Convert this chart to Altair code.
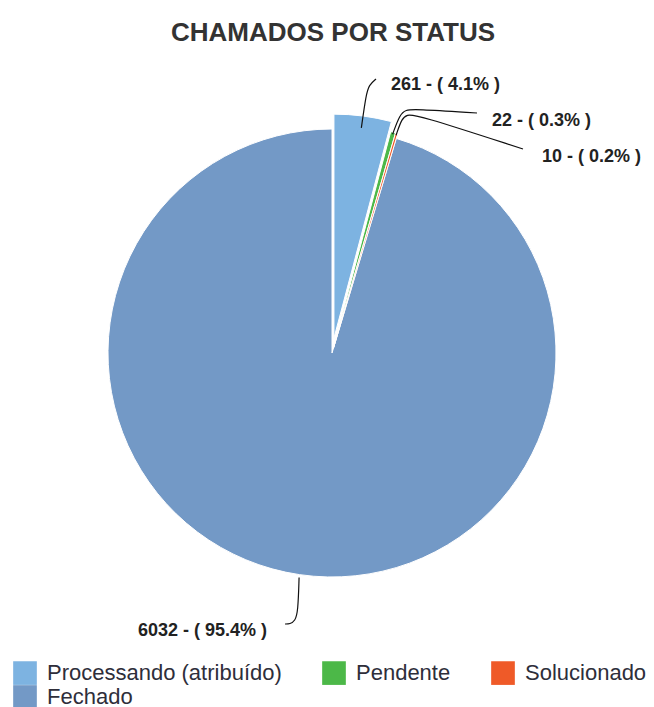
import altair as alt
import pandas as pd
import numpy as np

# ---- data ----
STATUS = ["Processando (atribuído)", "Pendente", "Solucionado", "Fechado"]
COUNTS = [261, 22, 10, 6032]
COLORS = ["#7db3e1", "#4cb848", "#ef5a28", "#7399c6"]
TITLE = "CHAMADOS POR STATUS"

# ---- layout ----
W, H = 654, 707
CX, CY, R = 332, 353, 224
EXPLODE = [15, 5, 5, 0]
LABEL_X = [391, 492, 542, 267]
LABEL_Y = [85, 121, 157, 631]
LABEL_ALIGN = ["left", "left", "left", "right"]
# leader line waypoints after the start point (which sits on the slice mid-angle)
LEADER_PTS = [
    [(366, 95), (369, 85), (376, 79)],
    [(400, 114), (406, 110), (414, 109), (477, 113)],
    [(402, 118), (407, 115), (415, 114), (523, 149)],
    [(298, 612), (295, 621), (290, 624), (285, 624)],
]

df = pd.DataFrame({"status": STATUS, "count": COUNTS, "idx": range(len(STATUS))})

counts = np.array(COUNTS, dtype=float)
total = counts.sum()
ends = np.cumsum(counts) / total * 2 * np.pi
starts = ends - counts / total * 2 * np.pi
mids = (starts + ends) / 2

color_scale = alt.Scale(domain=STATUS, range=COLORS)


def slice_layer(i):
    dx = EXPLODE[i] * np.sin(mids[i])
    dy = -EXPLODE[i] * np.cos(mids[i])
    return alt.Chart(df).mark_arc(outerRadius=R, stroke="white", strokeWidth=1).encode(
        theta=alt.Theta("count:Q", stack=True),
        order=alt.Order("idx:Q"),
        color=alt.Color("status:N", scale=color_scale, sort=STATUS,
                        legend=alt.Legend(title=None)),
        opacity=alt.condition(alt.datum.status == STATUS[i], alt.value(1), alt.value(0)),
        x=alt.value(CX + dx),
        y=alt.value(CY + dy),
    )


slices = [slice_layer(i) for i in [3, 0, 1, 2]]

# labels
lab_df = df.copy()
lab_df["lx"] = LABEL_X
lab_df["ly"] = LABEL_Y
lab_df["al"] = LABEL_ALIGN

label_base = alt.Chart(lab_df).transform_joinaggregate(
    tot="sum(count)"
).transform_calculate(
    label="datum.count + ' - ( ' + format(datum.count / datum.tot * 100, '.1f') + '% )'"
)


def label_layer(al):
    return label_base.transform_filter(alt.datum.al == al).mark_text(
        align=al, baseline="middle", font="Liberation Sans", fontSize=18,
        fontWeight="bold", color="#222"
    ).encode(
        x=alt.X("lx:Q", scale=None, axis=None),
        y=alt.Y("ly:Q", scale=None, axis=None),
        text="label:N",
    )


# leader lines
rows = []
for i, s in enumerate(STATUS):
    r0 = R + 3
    sx = CX + r0 * np.sin(mids[i])
    sy = CY - r0 * np.cos(mids[i])
    pts = [(sx, sy)] + LEADER_PTS[i]
    for k, (px, py) in enumerate(pts):
        rows.append({"status": s, "k": k, "px": px, "py": py})
lead_df = pd.DataFrame(rows)

leaders = alt.Chart(lead_df).mark_line(
    color="#111", strokeWidth=1.2, interpolate="basis"
).encode(
    x=alt.X("px:Q", scale=None, axis=None),
    y=alt.Y("py:Q", scale=None, axis=None),
    detail="status:N",
    order="k:Q",
)

title = alt.Chart(pd.DataFrame({"t": [TITLE]})).mark_text(
    font="Liberation Sans", fontSize=26, fontWeight="bold", color="#333",
    align="center", baseline="middle"
).encode(x=alt.value(333), y=alt.value(33), text="t:N")

chart = alt.layer(
    *slices, leaders, label_layer("left"), label_layer("right"), title
).properties(
    width=W, height=H, padding=0, autosize=alt.AutoSizeParams(type="none"),
    background="white"
).configure_view(stroke=None).configure_legend(
    orient="none", legendX=13, legendY=661, columns=3, direction="horizontal",
    symbolType="square", symbolSize=560, symbolStrokeWidth=0,
    labelFont="Liberation Sans", labelFontSize=22, labelColor="#2e2e3a",
    labelLimit=400, columnPadding=40, rowPadding=0, padding=0, labelOffset=10,
    symbolOpacity=1
)

chart.save("out.html", embed_options={"renderer": "svg", "actions": False})
